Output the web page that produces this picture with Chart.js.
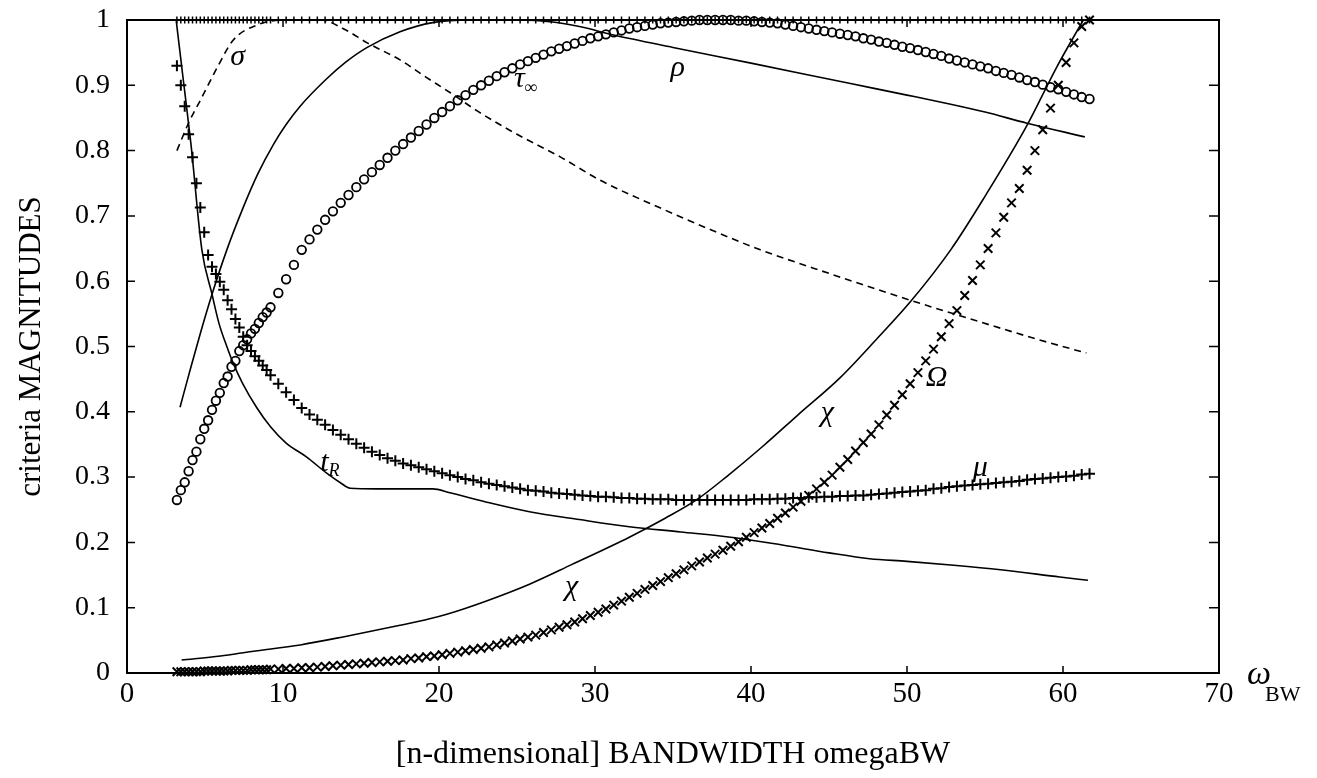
<!DOCTYPE html>
<html>
<head>
<meta charset="utf-8">
<script src="https://cdn.jsdelivr.net/npm/chart.js@4.4.1/dist/chart.umd.min.js"></script>
<style>
  body { margin: 0; background: #fff; }
  canvas { display: block; }
</style>
</head>
<body>
<canvas id="criteriaChart" width="1317" height="778"></canvas>
<script>
// sampled bandwidths (shared by the marker curves)
const omegaBW = [
  3.2, 3.45, 3.7, 3.95, 4.2, 4.45, 4.7, 4.95, 5.2, 5.45, 5.7, 5.95, 6.2, 6.45, 6.7, 6.95, 7.2, 7.45, 7.7, 7.95, 8.2, 8.45, 8.7, 8.95, 9.2,
  9.7, 10.2, 10.7, 11.2, 11.7, 12.2, 12.7, 13.2, 13.7, 14.2, 14.7, 15.2, 15.7, 16.2, 16.7, 17.2, 17.7, 18.2, 18.7, 19.2, 19.7,
  20.2, 20.7, 21.2, 21.7, 22.2, 22.7, 23.2, 23.7, 24.2, 24.7, 25.2, 25.7, 26.2, 26.7, 27.2, 27.7, 28.2, 28.7, 29.2, 29.7,
  30.2, 30.7, 31.2, 31.7, 32.2, 32.7, 33.2, 33.7, 34.2, 34.7, 35.2, 35.7, 36.2, 36.7, 37.2, 37.7, 38.2, 38.7, 39.2, 39.7,
  40.2, 40.7, 41.2, 41.7, 42.2, 42.7, 43.2, 43.7, 44.2, 44.7, 45.2, 45.7, 46.2, 46.7, 47.2, 47.7, 48.2, 48.7, 49.2, 49.7,
  50.2, 50.7, 51.2, 51.7, 52.2, 52.7, 53.2, 53.7, 54.2, 54.7, 55.2, 55.7, 56.2, 56.7, 57.2, 57.7, 58.2, 58.7, 59.2, 59.7,
  60.2, 60.7, 61.2, 61.7
];

// mu (+ markers)
const mu = [
  0.93, 0.90, 0.868, 0.825, 0.79, 0.75, 0.713, 0.675, 0.64, 0.622, 0.611, 0.599, 0.587, 0.571, 0.557, 0.542, 0.529, 0.515, 0.502, 0.493, 0.485, 0.478, 0.471, 0.464, 0.456,
  0.443, 0.43, 0.418, 0.406, 0.396, 0.388, 0.380, 0.372, 0.365, 0.358, 0.351, 0.345, 0.339, 0.334, 0.329, 0.325, 0.321, 0.318, 0.315, 0.312, 0.309,
  0.306, 0.303, 0.300, 0.297, 0.295, 0.292, 0.290, 0.288, 0.286, 0.284, 0.282, 0.280, 0.279, 0.278, 0.276, 0.275, 0.274, 0.273, 0.272, 0.271,
  0.270, 0.270, 0.269, 0.268, 0.268, 0.267, 0.267, 0.266, 0.266, 0.266, 0.265, 0.265, 0.265, 0.265, 0.265, 0.265, 0.265, 0.265, 0.265, 0.265,
  0.266, 0.266, 0.266, 0.267, 0.267, 0.268, 0.268, 0.269, 0.269, 0.270, 0.270, 0.271, 0.271, 0.272, 0.272, 0.273, 0.274, 0.275, 0.276, 0.277,
  0.278, 0.279, 0.280, 0.282, 0.283, 0.285, 0.286, 0.287, 0.288, 0.289, 0.290, 0.291, 0.292, 0.293, 0.294, 0.296, 0.297, 0.298, 0.299, 0.300,
  0.301, 0.302, 0.304, 0.305
];

// tau-infinity (o markers)
const tauInf = [
  0.265, 0.28, 0.292, 0.309, 0.326, 0.339, 0.358, 0.374, 0.387, 0.403, 0.417, 0.429, 0.444, 0.454, 0.469, 0.478, 0.493, 0.502, 0.511, 0.52, 0.527, 0.536, 0.545, 0.552, 0.56,
  0.582, 0.603, 0.625, 0.648, 0.664, 0.679, 0.694, 0.707, 0.72, 0.732, 0.744, 0.756, 0.767, 0.778, 0.789, 0.80, 0.81, 0.82, 0.83, 0.84, 0.85,
  0.859, 0.868, 0.877, 0.885, 0.893, 0.90, 0.907, 0.914, 0.92, 0.926, 0.932, 0.937, 0.942, 0.947, 0.952, 0.956, 0.96, 0.964, 0.968, 0.972,
  0.975, 0.978, 0.981, 0.984, 0.987, 0.989, 0.991, 0.993, 0.995, 0.996, 0.997, 0.998, 0.999, 1.0, 1.0, 1.0, 1.0, 1.0, 0.999, 0.999,
  0.998, 0.997, 0.996, 0.995, 0.993, 0.991, 0.989, 0.987, 0.985, 0.983, 0.981, 0.979, 0.977, 0.975, 0.972, 0.97, 0.967, 0.965, 0.962, 0.959,
  0.957, 0.954, 0.951, 0.948, 0.945, 0.941, 0.938, 0.935, 0.932, 0.929, 0.926, 0.922, 0.919, 0.916, 0.912, 0.908, 0.905, 0.901, 0.897, 0.894,
  0.89, 0.886, 0.882, 0.879
];

// Omega (x markers)
const omega = [
  0.002, 0.002, 0.002, 0.002, 0.002, 0.002, 0.002, 0.003, 0.003, 0.003, 0.003, 0.003, 0.003, 0.003, 0.004, 0.004, 0.004, 0.004, 0.004, 0.005, 0.005, 0.005, 0.005, 0.005, 0.006,
  0.006, 0.007, 0.007, 0.008, 0.008, 0.009, 0.010, 0.011, 0.012, 0.013, 0.014, 0.015, 0.016, 0.017, 0.018, 0.019, 0.020, 0.022, 0.023, 0.025, 0.026,
  0.028, 0.030, 0.032, 0.034, 0.036, 0.038, 0.040, 0.043, 0.046, 0.049, 0.052, 0.055, 0.058, 0.062, 0.066, 0.070, 0.074, 0.078, 0.083, 0.088,
  0.093, 0.098, 0.104, 0.110, 0.116, 0.122, 0.128, 0.134, 0.140, 0.146, 0.152, 0.158, 0.164, 0.170, 0.176, 0.182, 0.188, 0.194, 0.201, 0.208,
  0.215, 0.222, 0.229, 0.237, 0.245, 0.254, 0.263, 0.272, 0.282, 0.292, 0.303, 0.315, 0.327, 0.34, 0.353, 0.366, 0.38, 0.395, 0.41, 0.426,
  0.443, 0.46, 0.478, 0.496, 0.515, 0.535, 0.555, 0.578, 0.601, 0.625, 0.65, 0.674, 0.698, 0.72, 0.742, 0.77, 0.8, 0.832, 0.865, 0.9,
  0.935, 0.965, 0.99, 1.0
];

// criterion pinned at 1 (+ markers along the top)
const unity = [
  1, 1, 1, 1, 1, 1, 1, 1, 1, 1, 1, 1, 1, 1, 1, 1, 1, 1, 1, 1, 1, 1, 1, 1, 1,
  1, 1, 1, 1, 1, 1, 1, 1, 1, 1, 1, 1, 1, 1, 1, 1, 1, 1, 1, 1, 1,
  1, 1, 1, 1, 1, 1, 1, 1, 1, 1, 1, 1, 1, 1, 1, 1, 1, 1, 1, 1,
  1, 1, 1, 1, 1, 1, 1, 1, 1, 1, 1, 1, 1, 1, 1, 1, 1, 1, 1, 1,
  1, 1, 1, 1, 1, 1, 1, 1, 1, 1, 1, 1, 1, 1, 1, 1, 1, 1, 1, 1,
  1, 1, 1, 1, 1, 1, 1, 1, 1, 1, 1, 1, 1, 1, 1, 1, 1, 1, 1, 1,
  1, 1, 1, 1
];

// solid / dashed curves
const tRx = [3.15, 3.6, 4.1, 4.8, 5.45, 5.9, 6.4, 6.8, 7.4, 8.3, 9.2, 10.2, 11.5, 12.8, 13.7, 14.3, 16, 18, 19.6, 20.7, 23, 25.8, 29, 32.2, 35.5, 38.7, 42, 45, 47.6, 50, 53, 56, 59.8, 61.6];
const tRy = [1.0, 0.91, 0.81, 0.648, 0.58, 0.535, 0.5, 0.475, 0.444, 0.407, 0.377, 0.352, 0.331, 0.306, 0.291, 0.283, 0.282, 0.282, 0.282, 0.276, 0.262, 0.247, 0.235, 0.224, 0.216, 0.208, 0.196, 0.184, 0.175, 0.171, 0.165, 0.158, 0.147, 0.142];

const sigmaX = [3.2, 4.0, 4.7, 5.8, 6.8, 8.3, 10, 12.4, 14, 15.4, 17.5, 19, 20.7, 22.5, 25, 27.8, 30.3, 34.2, 37.5, 40.6, 44, 47, 50.2, 53, 56, 58.5, 61.5];
const sigmaY = [0.80, 0.845, 0.877, 0.928, 0.969, 0.992, 1.0, 1.0, 0.985, 0.965, 0.939, 0.915, 0.889, 0.86, 0.825, 0.79, 0.755, 0.712, 0.678, 0.648, 0.62, 0.596, 0.571, 0.55, 0.528, 0.51, 0.49];

const rhoX = [3.4, 4.0, 4.7, 5.45, 6.4, 7.4, 8.4, 9.4, 10.2, 11.1, 12.8, 14, 15.4, 17.5, 19.6, 22, 25, 27.3, 29, 31.2, 35, 40, 46.3, 50, 52.8, 55, 57.7, 61.4];
const rhoY = [0.407, 0.46, 0.52, 0.58, 0.648, 0.71, 0.765, 0.81, 0.84, 0.868, 0.91, 0.935, 0.958, 0.982, 0.996, 1.0, 1.0, 0.997, 0.99, 0.977, 0.958, 0.934, 0.903, 0.885, 0.871, 0.859, 0.842, 0.821];

const chiX = [3.5, 6, 8, 11.1, 14, 17.5, 19.4, 20.5, 23, 25.8, 28.5, 32.2, 34.5, 36.5, 38.5, 40.8, 43, 45.7, 48, 50.2, 52.8, 55, 57.7, 59.6, 61.3];
const chiY = [0.02, 0.026, 0.033, 0.043, 0.056, 0.073, 0.083, 0.09, 0.11, 0.136, 0.166, 0.208, 0.237, 0.265, 0.302, 0.348, 0.395, 0.452, 0.51, 0.568, 0.648, 0.73, 0.839, 0.928, 1.0];

// hand-written curve names
const labelText = ['σ', 'τ', 'ρ', 't', 'Ω', 'μ', 'χ', 'χ'];
const labelSub = ['', '∞', '', 'R', '', '', '', ''];
const labelX = [7.1, 25.6, 35.3, 13.1, 51.9, 54.7, 28.5, 44.9];
const labelY = [0.943, 0.91, 0.926, 0.322, 0.452, 0.314, 0.132, 0.398];

const serif = '"Liberation Serif", "Times New Roman", serif';
const pts = (xs, ys) => xs.map((v, i) => ({ x: v, y: ys[i] }));

const framePlugin = {
  id: 'frame',
  afterDatasetsDraw(chart) {
    const { ctx, chartArea: a, scales: { x, y } } = chart;
    ctx.save();
    ctx.strokeStyle = '#000';
    ctx.lineWidth = 2;
    ctx.strokeRect(a.left, a.top, a.right - a.left, a.bottom - a.top);

    // inward tick marks on all four sides
    ctx.lineWidth = 1.5;
    ctx.beginPath();
    x.ticks.forEach(t => {
      const px = x.getPixelForValue(t.value);
      ctx.moveTo(px, a.bottom); ctx.lineTo(px, a.bottom - 7);
      ctx.moveTo(px, a.top); ctx.lineTo(px, a.top + 7);
    });
    y.ticks.forEach(t => {
      const py = y.getPixelForValue(t.value);
      ctx.moveTo(a.left, py); ctx.lineTo(a.left + 8, py);
      ctx.moveTo(a.right, py); ctx.lineTo(a.right - 10, py);
    });
    ctx.stroke();

    // curve names
    ctx.fillStyle = '#000';
    ctx.textBaseline = 'middle';
    labelText.forEach((txt, i) => {
      const px = x.getPixelForValue(labelX[i]);
      const py = y.getPixelForValue(labelY[i]);
      ctx.font = 'italic 30px ' + serif;
      const w = ctx.measureText(txt).width;
      const sw = labelSub[i] ? 14 : 0;
      ctx.textAlign = 'left';
      ctx.fillText(txt, px - (w + sw) / 2, py);
      if (labelSub[i]) {
        ctx.font = 'italic 18px ' + serif;
        ctx.fillText(labelSub[i], px - (w + sw) / 2 + w, py + 9);
      }
    });

    // omega_BW next to the x axis end
    ctx.font = 'italic 34px ' + serif;
    ctx.textAlign = 'left';
    ctx.fillText('ω', a.right + 28, a.bottom + 2);
    ctx.font = '22px ' + serif;
    ctx.fillText('BW', a.right + 46, a.bottom + 22);
    ctx.restore();
  }
};

new Chart(document.getElementById('criteriaChart'), {
  type: 'scatter',
  data: {
    datasets: [
      {
        data: pts(omegaBW, unity), showLine: true, borderColor: '#000', borderWidth: 2,
        pointStyle: 'cross', pointRadius: 3.5, pointBorderWidth: 1.5, pointBorderColor: '#000', clip: false
      },
      {
        data: pts(omegaBW, mu), showLine: false,
        pointStyle: 'cross', pointRadius: 5.5, pointBorderWidth: 2, pointBorderColor: '#000', clip: false
      },
      {
        data: pts(omegaBW, tauInf), showLine: false,
        pointStyle: 'circle', pointRadius: 4.3, pointBorderWidth: 1.8, pointBorderColor: '#000',
        pointBackgroundColor: 'rgba(0,0,0,0)', clip: false
      },
      {
        data: pts(omegaBW, omega), showLine: false,
        pointStyle: 'crossRot', pointRadius: 6, pointBorderWidth: 2, pointBorderColor: '#000', clip: false
      },
      {
        data: pts(tRx, tRy), showLine: true, borderColor: '#000', borderWidth: 1.6,
        pointRadius: 0, cubicInterpolationMode: 'monotone'
      },
      {
        data: pts(sigmaX, sigmaY), showLine: true, borderColor: '#000', borderWidth: 1.6,
        borderDash: [7, 5], pointRadius: 0, cubicInterpolationMode: 'monotone'
      },
      {
        data: pts(rhoX, rhoY), showLine: true, borderColor: '#000', borderWidth: 1.6,
        pointRadius: 0, cubicInterpolationMode: 'monotone'
      },
      {
        data: pts(chiX, chiY), showLine: true, borderColor: '#000', borderWidth: 1.6,
        pointRadius: 0, cubicInterpolationMode: 'monotone'
      }
    ]
  },
  options: {
    responsive: false,
    animation: false,
    layout: { padding: { left: 0, top: 20, right: 98, bottom: 0 } },
    plugins: {
      legend: { display: false },
      tooltip: { enabled: false }
    },
    scales: {
      x: {
        type: 'linear',
        min: 0,
        max: 70,
        afterFit: function(scale) {
          scale.height = 105;
          scale.paddingLeft = 0;
          scale.paddingRight = 0;
        },
        grid: { display: false, drawTicks: false },
        border: { display: false },
        ticks: {
          stepSize: 10,
          maxRotation: 0,
          padding: 4,
          color: '#000',
          font: { family: serif, size: 29 }
        },
        title: {
          display: true,
          text: '[n-dimensional] BANDWIDTH omegaBW',
          color: '#000',
          font: { family: serif, size: 32 },
          padding: { top: 0, bottom: 4 }
        }
      },
      y: {
        min: 0,
        max: 1,
        afterFit: function(scale) {
          scale.width = 127;
          scale.paddingTop = 0;
          scale.paddingBottom = 0;
        },
        grid: { display: false, drawTicks: false },
        border: { display: false },
        ticks: {
          stepSize: 0.1,
          padding: 17,
          color: '#000',
          font: { family: serif, size: 28 },
          callback: function(value) {
            return String(Math.round(value * 10) / 10);
          }
        },
        title: {
          display: true,
          text: 'criteria MAGNITUDES',
          color: '#000',
          font: { family: serif, size: 31 },
          padding: { top: 13, bottom: 0 }
        }
      }
    }
  },
  plugins: [framePlugin]
});
</script>
</body>
</html>
